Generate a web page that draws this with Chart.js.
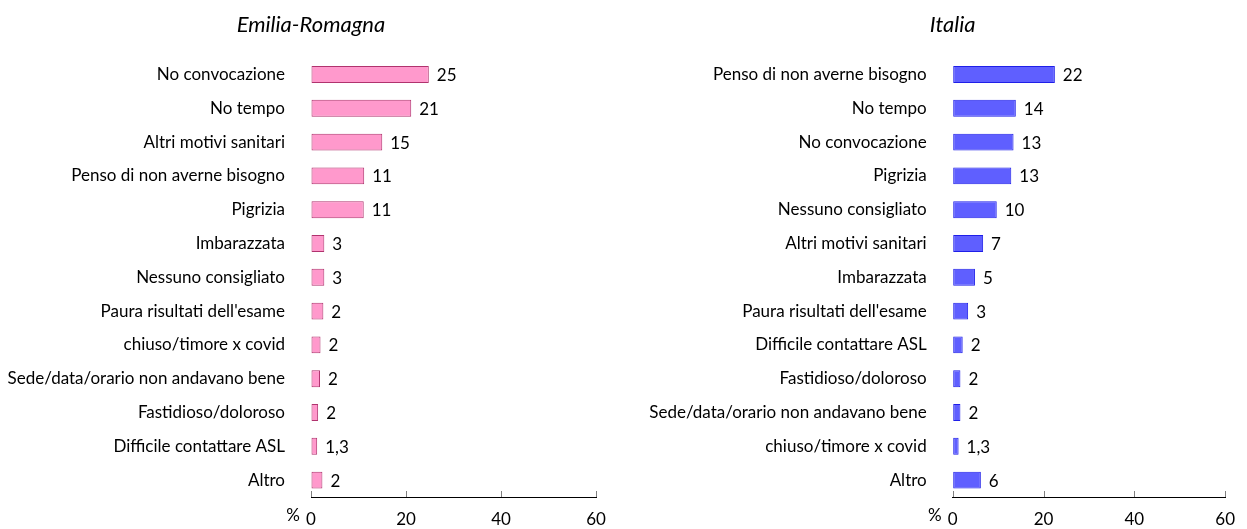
<!DOCTYPE html>
<html>
<head>
<meta charset="utf-8">
<script src="https://cdn.jsdelivr.net/npm/chart.js@4/dist/chart.umd.min.js"></script>
<style>
  html, body { margin: 0; padding: 0; background: #fff; }
  #wrap { position: relative; width: 1247px; height: 529px; overflow: hidden; }
  .box { position: absolute; top: 0; height: 529px; }
  #boxL { left: 0; width: 623px; }
  #boxR { left: 623px; width: 624px; }
</style>
</head>
<body>
<div id="wrap">
  <div class="box" id="boxL"><canvas id="cL"></canvas></div>
  <div class="box" id="boxR"><canvas id="cR"></canvas></div>
</div>
<script>
// ---- data ----
const titleER = "Emilia-Romagna";
const titleIT = "Italia";

const categoriesER = ["No convocazione", "No tempo", "Altri motivi sanitari", "Penso di non averne bisogno", "Pigrizia", "Imbarazzata", "Nessuno consigliato", "Paura risultati dell'esame", "chiuso/timore x covid", "Sede/data/orario non andavano bene", "Fastidioso/doloroso", "Difficile contattare ASL", "Altro"];
const valuesER = [24.8, 21.1, 15.0, 11.2, 11.1, 2.8, 2.8, 2.6, 2.0, 1.9, 1.5, 1.3, 2.4];
const labelsER = ["25", "21", "15", "11", "11", "3", "3", "2", "2", "2", "2", "1,3", "2"];

const categoriesIT = ["Penso di non averne bisogno", "No tempo", "No convocazione", "Pigrizia", "Nessuno consigliato", "Altri motivi sanitari", "Imbarazzata", "Paura risultati dell'esame", "Difficile contattare ASL", "Fastidioso/doloroso", "Sede/data/orario non andavano bene", "chiuso/timore x covid", "Altro"];
const valuesIT = [22.5, 13.9, 13.4, 12.9, 9.7, 6.7, 4.9, 3.4, 2.2, 1.7, 1.7, 1.3, 6.2];
const labelsIT = ["22", "14", "13", "13", "10", "7", "5", "3", "2", "2", "2", "1,3", "6"];

const xTicks = [0, 20, 40, 60];
const unitLabel = "%";

// ---- style ----
const FONT = "Lato, 'Liberation Sans', sans-serif";
const FS = 17;

const decoPlugin = {
  id: 'deco',
  afterDraw(chart, args, opts) {
    const ctx = chart.ctx;
    const xs = chart.scales.x;
    const ca = chart.chartArea;
    ctx.save();
    // upward tick marks
    ctx.strokeStyle = '#808080';
    ctx.lineWidth = 1;
    xs.ticks.forEach((t, i) => {
      const px = Math.round(xs.getPixelForTick(i)) + 0.5;
      ctx.beginPath();
      ctx.moveTo(px, ca.bottom);
      ctx.lineTo(px, ca.bottom - 6);
      ctx.stroke();
    });
    // data labels
    ctx.fillStyle = '#000';
    ctx.font = FS + "px " + FONT;
    ctx.textAlign = 'left';
    ctx.textBaseline = 'middle';
    const meta = chart.getDatasetMeta(0);
    meta.data.forEach((el, i) => {
      ctx.fillText(opts.labels[i], el.x + 8, el.y + 1);
    });
    // unit label
    ctx.textAlign = 'right';
    ctx.fillText(opts.unit, xs.getPixelForValue(0) - 11, ca.bottom + 19);
    // title centred over the zero of the axis
    ctx.font = "italic 22px " + FONT;
    ctx.textAlign = 'center';
    ctx.fillText(opts.title, xs.getPixelForValue(0), 25);
    ctx.restore();
  }
};

function makeChart(id, cats, vals, labs, title, fill, border, yWidth, padRight) {
  return new Chart(document.getElementById(id), {
    type: 'bar',
    data: {
      labels: cats,
      datasets: [{
        data: vals,
        backgroundColor: fill,
        borderColor: border,
        borderWidth: 1,
        borderSkipped: false,
        barPercentage: 0.5,
        categoryPercentage: 1.0
      }]
    },
    options: {
      indexAxis: 'y',
      responsive: true,
      maintainAspectRatio: false,
      animation: false,
      layout: { padding: { top: 57.6, right: padRight, bottom: 0, left: 0 } },
      plugins: {
        legend: { display: false },
        title: { display: false },
        tooltip: { enabled: false },
        deco: { labels: labs, unit: unitLabel, title: title }
      },
      scales: {
        x: {
          min: 0, max: 60,
          afterBuildTicks: (s) => { s.ticks = xTicks.map(v => ({ value: v })); },
          afterFit: (s) => { s.height = 32; },
          grid: { display: true, drawOnChartArea: false, drawTicks: false },
          border: { display: true, color: '#000', width: 1 },
          ticks: { padding: 12, color: '#000', font: { family: FONT, size: FS } }
        },
        y: {
          afterFit: (s) => { s.width = yWidth; },
          grid: { display: false },
          border: { display: false },
          ticks: { padding: 18, color: '#000', autoSkip: false, font: { family: FONT, size: FS } }
        }
      }
    },
    plugins: [decoPlugin]
  });
}

makeChart('cL', categoriesER, valuesER, labelsER, titleER, '#ff99cc', '#b0336e', 311, 27);
makeChart('cR', categoriesIT, valuesIT, labelsIT, titleIT, '#5f5fff', '#1f1fe8', 329.7, 9);
</script>
</body>
</html>
